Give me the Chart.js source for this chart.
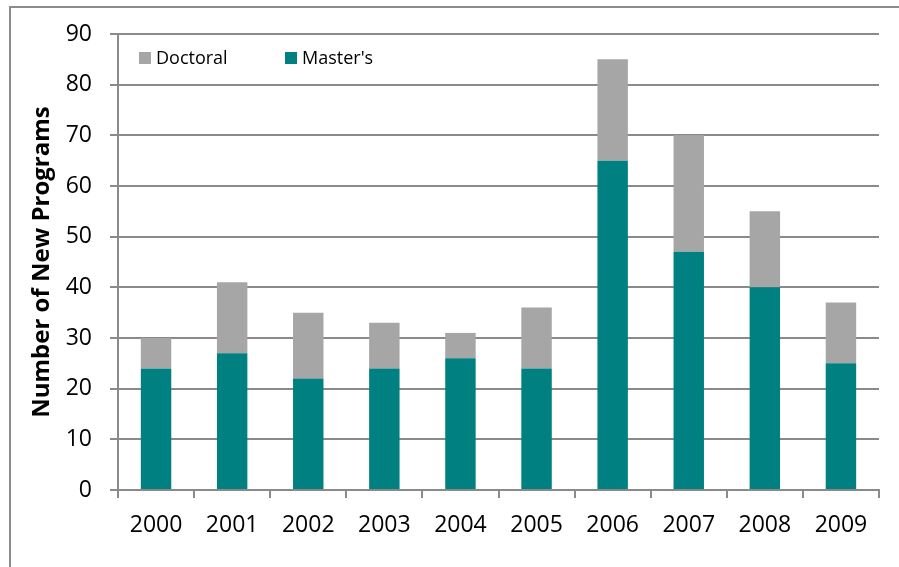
<!DOCTYPE html>
<html>
<head>
<meta charset="utf-8">
<script src="https://cdn.jsdelivr.net/npm/chart.js@4"></script>
<style>
  body { margin: 0; background: #fff; overflow: hidden; }
  #frame { position: absolute; left: 9px; top: 6px; width: 1000px; height: 1000px;
           border-left: 2px solid #8c8c8c; border-top: 2px solid #8c8c8c; }
  #chart { position: absolute; left: 0; top: 0; }
</style>
</head>
<body>
<div id="frame"></div>
<canvas id="chart" width="899" height="567"></canvas>
<script>
// data
const years = ["2000", "2001", "2002", "2003", "2004", "2005", "2006", "2007", "2008", "2009"];
const masters = [24, 27, 22, 24, 26, 24, 65, 47, 40, 25];
const doctoral = [6, 14, 13, 9, 5, 12, 20, 23, 15, 12];
const yTicks = [0, 10, 20, 30, 40, 50, 60, 70, 80, 90];

const FONT = "'Open Sans', sans-serif";
const gridGray = "#8a8a8a";

// legend drawn inside the plot area, Doctoral first
const insideLegend = {
  id: "insideLegend",
  afterDraw(chart) {
    const ctx = chart.ctx;
    const area = chart.chartArea;
    const sets = chart.data.datasets.slice().reverse();
    ctx.save();
    ctx.font = "18px " + FONT;
    ctx.textBaseline = "middle";
    sets.forEach((ds, i) => {
      const x = area.left + 21 + i * 146;
      const y = area.top + 24;
      ctx.fillStyle = ds.backgroundColor;
      ctx.fillRect(x, y - 6, 12, 12);
      ctx.fillStyle = "#000";
      ctx.fillText(ds.label, x + 17, y + 1);
    });
    ctx.restore();
  }
};

new Chart(document.getElementById("chart"), {
  type: "bar",
  data: {
    labels: years,
    datasets: [
      { label: "Master's", data: masters, backgroundColor: "#008080",
        categoryPercentage: 1, barPercentage: 0.4 },
      { label: "Doctoral", data: doctoral, backgroundColor: "#a6a6a6",
        categoryPercentage: 1, barPercentage: 0.4 }
    ]
  },
  options: {
    responsive: false,
    animation: false,
    layout: { padding: { left: 14, top: 34, right: 20, bottom: 0 } },
    plugins: {
      legend: { display: false },
      tooltip: { enabled: false }
    },
    scales: {
      x: {
        stacked: true,
        afterFit: (s) => { s.height = 77; },
        border: { color: gridGray, width: 2 },
        grid: { drawOnChartArea: false, drawTicks: true, tickLength: 8, color: gridGray, lineWidth: 2, offset: true },
        ticks: { color: "#000", font: { family: FONT, size: 23 }, padding: 14 }
      },
      y: {
        stacked: true,
        min: 0,
        max: 90,
        afterFit: (s) => { s.width = 104; },
        afterBuildTicks: (s) => { s.ticks = yTicks.map(v => ({ value: v })); },
        border: { color: gridGray, width: 2 },
        grid: { color: gridGray, lineWidth: 2, tickLength: 8 },
        ticks: { color: "#000", font: { family: FONT, size: 23 }, padding: 18 },
        title: {
          display: true,
          text: "Number of New Programs",
          color: "#000",
          font: { family: FONT, size: 24, weight: "bold" },
          padding: { top: 14, bottom: 0 }
        }
      }
    }
  },
  plugins: [insideLegend]
});
</script>
</body>
</html>
